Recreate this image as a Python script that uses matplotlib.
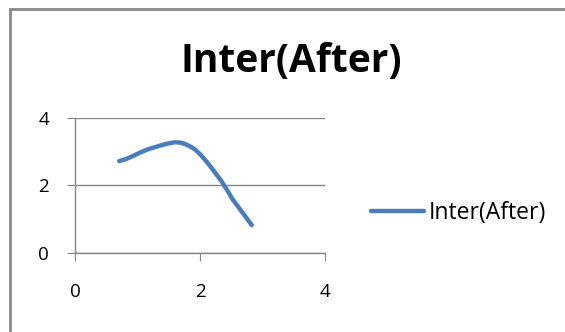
import matplotlib
matplotlib.use("Agg")
import matplotlib.pyplot as plt
from matplotlib.patches import Rectangle

# ── Data ──────────────────────────────────────────────────────────────────────
x_vals = [0.70, 0.79, 0.87, 0.95, 1.03, 1.16, 1.30, 1.45, 1.59, 1.67, 1.75,
          1.83, 1.91, 2.00, 2.10, 2.18, 2.26, 2.33, 2.39, 2.45, 2.50, 2.58,
          2.66, 2.74, 2.82]
y_vals = [2.72, 2.77, 2.83, 2.90, 2.97, 3.07, 3.15, 3.23, 3.28, 3.27, 3.23,
          3.16, 3.07, 2.91, 2.70, 2.51, 2.31, 2.14, 1.96, 1.79, 1.62, 1.42,
          1.22, 1.02, 0.82]
series_name = "Inter(After)"
x_ticks = [0, 2, 4]
y_ticks = [0, 2, 4]

LINE_COLOR = "#4a7ebb"
GRID_COLOR = "#868686"

plt.rcParams["font.family"] = ["Open Sans", "DejaVu Sans"]

fig = plt.figure(figsize=(5.65, 3.32), dpi=100)
ax = fig.add_axes([0.1336, 0.2389, 0.4425, 0.4057])

ax.plot(x_vals, y_vals, color=LINE_COLOR, lw=3.2, solid_capstyle="round",
        solid_joinstyle="round", label=series_name)

ax.set_xlim(0, 4)
ax.set_ylim(0, 4)
ax.set_xticks(x_ticks)
ax.set_yticks(y_ticks)
ax.tick_params(axis="both", labelsize=13.5, color=GRID_COLOR, length=6,
               direction="out")
ax.tick_params(axis="x", pad=16)
ax.tick_params(axis="y", pad=13)
for side in ["top", "right"]:
    ax.spines[side].set_visible(False)
for side in ["left", "bottom"]:
    ax.spines[side].set_color(GRID_COLOR)
    ax.spines[side].set_linewidth(1)
ax.yaxis.grid(True, color=GRID_COLOR, lw=1)
ax.set_axisbelow(True)

fig.text(291 / 565, 1 - 72 / 332, series_name, ha="center", va="baseline",
         fontsize=28, fontweight="bold")

leg = fig.legend(loc="center left", bbox_to_anchor=(371 / 565, 1 - 213 / 332),
                 frameon=False, fontsize=16.5, handlelength=2.3,
                 handletextpad=0.2, borderpad=0, borderaxespad=0)

# outer chart border
fig.patches.append(Rectangle((10 / 565, -0.05), 1.0, (332 - 9) / 332 + 0.05,
                             transform=fig.transFigure, fill=False,
                             edgecolor="#888888", lw=2))

plt.savefig("out.png", dpi=100)
